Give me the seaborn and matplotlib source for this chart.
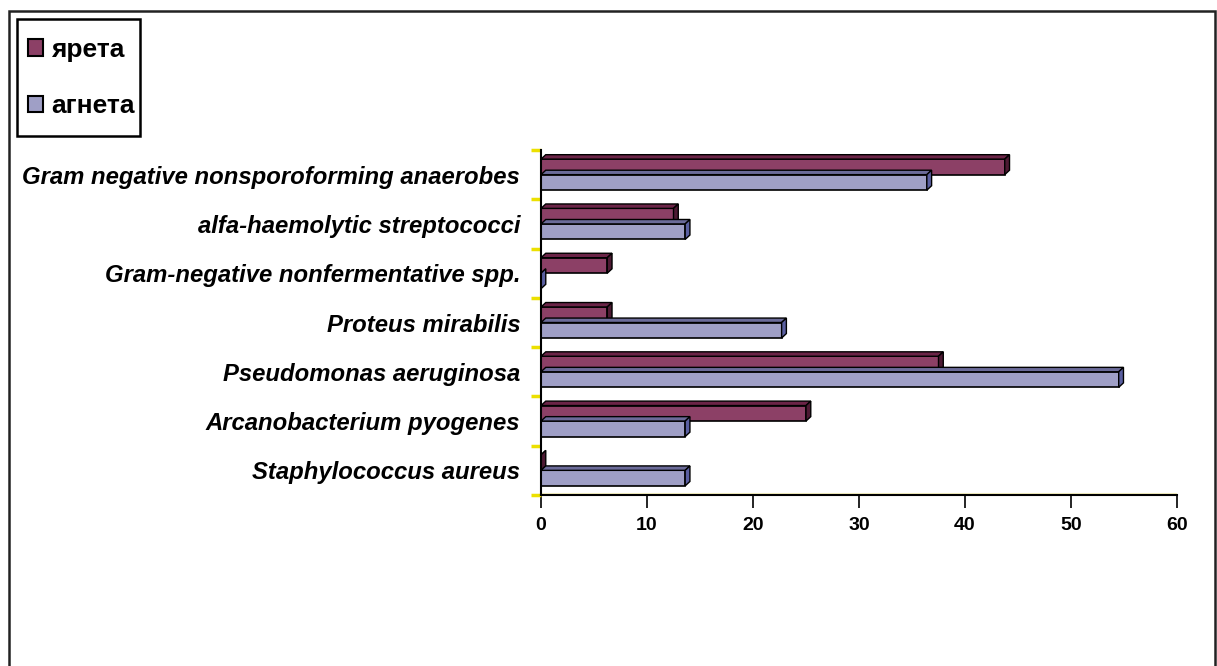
import matplotlib
matplotlib.use("Agg")
import matplotlib.pyplot as plt
from matplotlib.patches import Polygon, Rectangle
import seaborn as sns
import pandas as pd
import numpy as np

categories = [
    "Gram negative nonsporoforming anaerobes",
    "alfa-haemolytic streptococci",
    "Gram-negative nonfermentative spp.",
    "Proteus mirabilis",
    "Pseudomonas aeruginosa",
    "Arcanobacterium pyogenes",
    "Staphylococcus aureus",
]
series_names = ["ярета", "агнета"]
yareta = [43.75, 12.5, 6.25, 6.25, 37.5, 25.0, 0.0]
agneta = [36.4, 13.6, 0.0, 22.7, 54.5, 13.6, 13.6]
x_ticks = [0, 10, 20, 30, 40, 50, 60]

front_colors = {"ярета": "#993366", "агнета": "#9999CC"}
top_colors = {"ярета": "#6b2447", "агнета": "#6b6b99"}
side_colors = {"ярета": "#4d1a33", "агнета": "#5a5fa0"}

df = pd.DataFrame({
    "category": categories * 2,
    "series": [series_names[0]] * len(categories) + [series_names[1]] * len(categories),
    "value": yareta + agneta,
})

sns.set_style("white")
plt.rcParams["font.family"] = ["Liberation Sans", "DejaVu Sans"]
plt.rcParams["text.color"] = "black"
plt.rcParams["xtick.color"] = "black"
plt.rcParams["ytick.color"] = "black"

fig = plt.figure(figsize=(12.17, 6.66), dpi=100)
ax = fig.add_axes([541 / 1217, 1 - 495 / 666, (1177 - 541) / 1217, (495 - 150) / 666])

sns.barplot(
    data=df, y="category", x="value", hue="series",
    order=categories, hue_order=series_names,
    palette=front_colors, orient="h", width=0.63, gap=0,
    edgecolor="black", linewidth=1.2, ax=ax, legend=True,
)

# pseudo-3D faces on each bar, derived from the bar geometry
dx = 0.45
dy = 0.09
n = len(categories)
for i, patch in enumerate(ax.patches[: 2 * n]):
    name = series_names[i // n]
    x0, y0 = patch.get_x(), patch.get_y()
    w, h = patch.get_width(), patch.get_height()
    x1 = x0 + w
    ytop, ybot = y0, y0 + h  # y axis is inverted: y0 is the upper edge
    top = Polygon([(x0, ytop), (x0 + dx, ytop - dy), (x1 + dx, ytop - dy), (x1, ytop)],
                  closed=True, facecolor=top_colors[name], edgecolor="black",
                  linewidth=1.0, zorder=patch.get_zorder())
    side = Polygon([(x1, ytop), (x1 + dx, ytop - dy), (x1 + dx, ybot - dy), (x1, ybot)],
                   closed=True, facecolor=side_colors[name], edgecolor="black",
                   linewidth=1.0, zorder=patch.get_zorder())
    ax.add_patch(top)
    ax.add_patch(side)

ax.set_xlim(0, 60)
ax.set_ylim(n - 0.5, -0.5)
ax.set_xticks(x_ticks)
ax.set_xticklabels([str(t) for t in x_ticks], fontsize=14, fontweight="bold", color="black")
ax.tick_params(axis="x", direction="out", length=9, width=1.2, color="black", pad=7, bottom=True)
ax.set_xlabel("")
ax.set_ylabel("")

ax.set_yticks(range(n))
ax.set_yticklabels(categories, fontsize=17.2, fontweight="bold", fontstyle="italic", color="black")
ax.tick_params(axis="y", length=0, pad=15)
ax.set_yticks(np.arange(-0.5, n, 1.0), minor=True)
ax.tick_params(axis="y", which="minor", direction="out", length=7, width=2.5,
               color="#ece000", left=True)

for s in ["top", "right"]:
    ax.spines[s].set_visible(False)
ax.spines["left"].set_color("black")
ax.spines["left"].set_linewidth(1.5)
ax.spines["left"].set_zorder(5)
ax.spines["bottom"].set_color("black")
ax.spines["bottom"].set_linewidth(1.5)
ax.axhline(n - 0.5 - 0.03, color="#f5f0c0", linewidth=1.5, zorder=0)

# legend entries, with a separate square black frame at the upper left
handles, labels = ax.get_legend_handles_labels()
ax.get_legend().remove()
leg = fig.legend(
    handles, labels, loc="center left",
    bbox_to_anchor=(28 / 1217, 1 - 78 / 666), bbox_transform=fig.transFigure,
    frameon=False,
    prop={"family": "Liberation Sans", "weight": "bold", "size": 19},
    handlelength=0.57, handleheight=0.57, handletextpad=0.3,
    labelspacing=1.23, borderpad=0, borderaxespad=0,
)
for hnd in leg.legend_handles:
    hnd.set_edgecolor("black")
    hnd.set_linewidth(1.5)
fig.patches.append(Rectangle((17 / 1217, 1 - 136 / 666), (140 - 17) / 1217, (136 - 19) / 666,
                             transform=fig.transFigure, fill=False,
                             edgecolor="black", linewidth=1.8, zorder=1))

# outer chart border
fig.patches.append(Rectangle((9 / 1217, -0.05), (1215 - 9) / 1217, 1.05 - 11 / 666,
                             transform=fig.transFigure, fill=False,
                             edgecolor="#222222", linewidth=1.8, zorder=0))

fig.savefig("out.png", dpi=100)
